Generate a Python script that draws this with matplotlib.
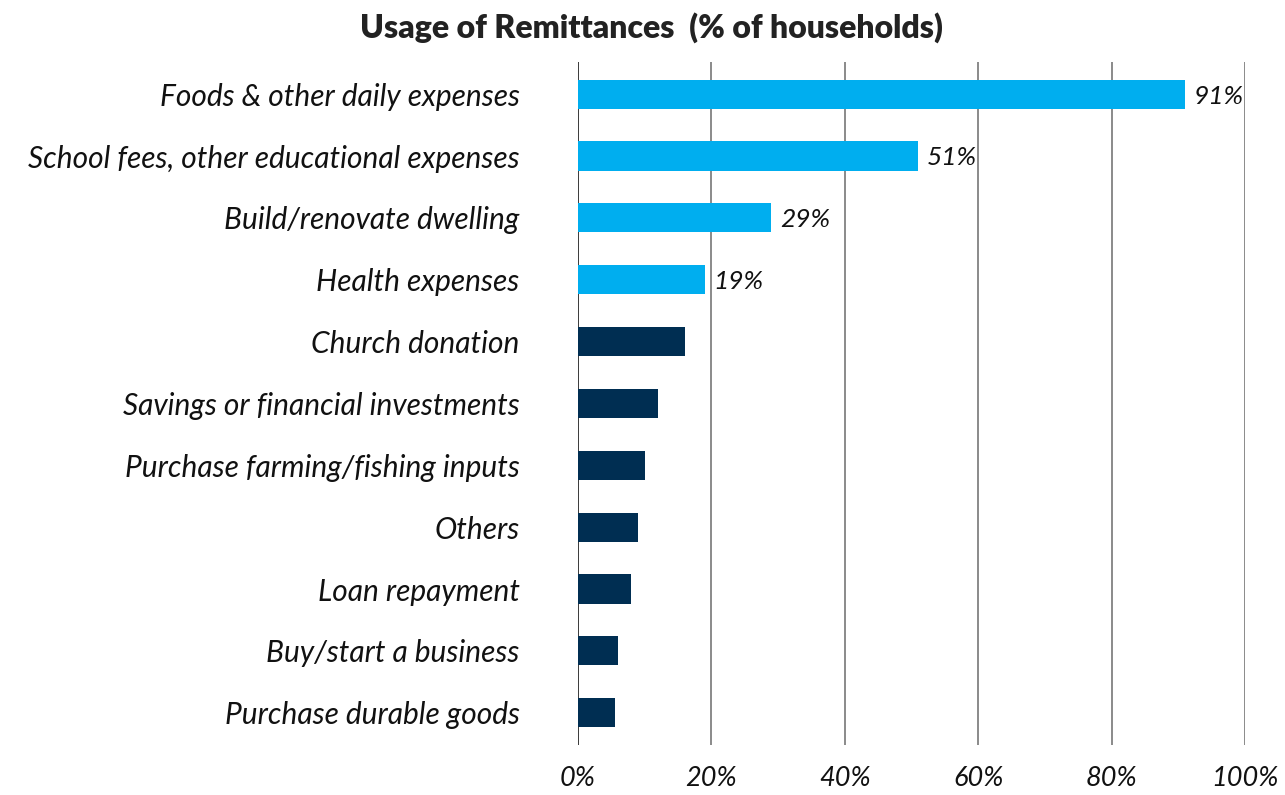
import matplotlib.pyplot as plt

categories = [
    "Foods & other daily expenses",
    "School fees, other educational expenses",
    "Build/renovate dwelling",
    "Health expenses",
    "Church donation",
    "Savings or financial investments",
    "Purchase farming/fishing inputs",
    "Others",
    "Loan repayment",
    "Buy/start a business",
    "Purchase durable goods",
]
shares = [91, 51, 29, 19, 16, 12, 10, 9, 8, 6, 5.5]
highlighted = [True, True, True, True, False, False, False, False, False, False, False]
xticks = [0, 20, 40, 60, 80, 100]
xtick_labels = ["0%", "20%", "40%", "60%", "80%", "100%"]

plt.rcParams['font.family'] = ['Lato', 'DejaVu Sans']

fig = plt.figure(figsize=(12.85, 7.95), dpi=100)
ax = fig.add_axes([0.4498, 0.063, 0.519, 0.859])

ypos = list(range(len(categories)))
colors = ['#00AEEF' if h else '#002E52' for h in highlighted]
ax.barh(ypos, shares, height=0.47, color=colors, zorder=3)

# percentage labels on the highlighted bars only
for y, v, h in zip(ypos, shares, highlighted):
    if h:
        ax.text(v + 1.3, y + 0.03, f"{v:g}%", va='center', ha='left',
                fontsize=19, style='italic', color='#111111')

ax.set_xlim(0, 100)
ax.set_ylim(len(categories) - 0.48, -0.52)
ax.set_yticks(ypos)
ax.set_yticklabels(categories, fontsize=21.5, style='italic', color='#111111')
ax.set_xticks(xticks)
ax.set_xticklabels(xtick_labels, fontsize=19.5, style='italic', color='#111111')
ax.tick_params(axis='y', length=0, pad=42)
ax.tick_params(axis='x', length=0, pad=15)

for x in xticks:
    ax.axvline(x, color='#3a3a3a' if x == 0 else '#8a8a8a', lw=1.4, zorder=1)

for s in ax.spines.values():
    s.set_visible(False)

fig.text(0.507, 0.965, "Usage of Remittances  (% of households)",
         ha='center', va='center', fontsize=23, fontweight='heavy', color='#222222')

plt.savefig('out.png', dpi=100)
